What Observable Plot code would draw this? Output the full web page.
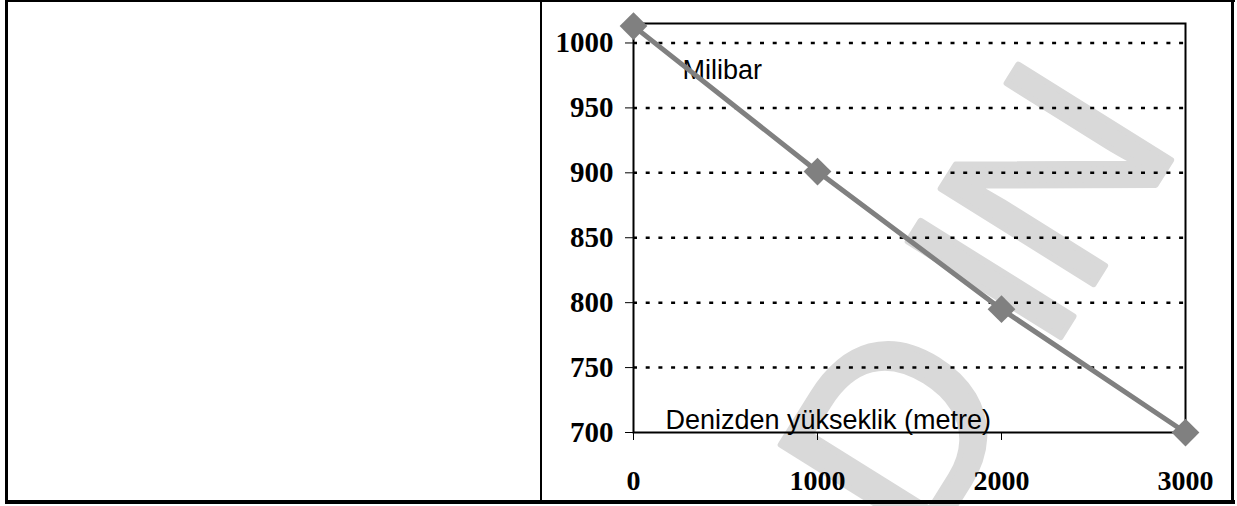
<!DOCTYPE html>
<html>
<head>
<meta charset="utf-8">
<script src="https://cdn.jsdelivr.net/npm/d3@7"></script>
<script src="https://cdn.jsdelivr.net/npm/@observablehq/plot@0.6"></script>
<style>
  html, body { margin: 0; padding: 0; background: #fff; }
  #page { position: relative; width: 1237px; height: 506px; overflow: hidden; background: #fff; }
  .border { position: absolute; background: #000; }
  #mark { position: absolute; left: 0; top: 0; }
  #chart { position: absolute; left: 542px; top: 0; }
</style>
</head>
<body>
<div id="page">
  <svg id="mark" width="1237" height="506"></svg>
  <div id="chart"></div>
  <div class="border" style="left:5px;top:0;width:1230px;height:2px"></div>
  <div class="border" style="left:5px;top:500px;width:1230px;height:4px"></div>
  <div class="border" style="left:5px;top:0;width:3px;height:504px"></div>
  <div class="border" style="left:1231px;top:0;width:3px;height:504px"></div>
  <div class="border" style="left:540px;top:0;width:2px;height:504px"></div>
</div>
<script>
// Air pressure against altitude above sea level
const altitudes = [0, 1000, 2000, 3000];          // metres
const pressures = [1013, 901, 795, 700];          // millibars
const xTicks = [0, 1000, 2000, 3000];
const yTicks = [700, 750, 800, 850, 900, 950, 1000];
const gridTicks = [750, 800, 850, 900, 950, 1000];
const yTitle = "Milibar";
const xTitle = "Denizden yükseklik (metre)";
const watermarkLetters = ["D", "I", "N"];
const watermarkOffsets = [15, 252, 317];          // along the rotated baseline

const rows = altitudes.map((a, i) => ({altitude: a, pressure: pressures[i]}));

// faint watermark lettering behind the chart, set on a baseline tilted by -58°
const wm = d3.select("#mark").append("text")
  .attr("transform", "rotate(-58)")
  .attr("font-family", "Liberation Sans, Arial, sans-serif")
  .attr("font-size", 262)
  .attr("fill", "#d9d9d9")
  .attr("stroke", "#d9d9d9")
  .attr("stroke-width", 6)
  .attr("stroke-linejoin", "round");
watermarkLetters.forEach((ch, i) => {
  wm.append("tspan").attr("x", watermarkOffsets[i]).attr("y", 1078).text(ch);
});

const tickFont = {fontFamily: "Liberation Serif, Times New Roman, serif", fontWeight: "bold", fill: "#000"};
const titleFont = {fontFamily: "Liberation Sans, Arial, sans-serif", fontWeight: "normal", fontSize: 27, fill: "#000"};

const chart = Plot.plot({
  width: 690,
  height: 503,
  marginLeft: 91,
  marginRight: 47,
  marginTop: 23,
  marginBottom: 71,
  style: {background: "transparent", fontFamily: "Liberation Serif, Times New Roman, serif", fontSize: "28px", color: "#000"},
  x: {domain: [0, 3000]},
  y: {domain: [700, 1015]},
  marks: [
    Plot.gridY(gridTicks, {stroke: "#000", strokeOpacity: 1, strokeWidth: 2.5, strokeDasharray: "4,8.7"}),
    Plot.frame({stroke: "#000", strokeWidth: 2}),
    Plot.axisX({ticks: xTicks, tickSize: 8, tickPadding: 30, tickFormat: d => String(d), label: null, fontSize: 28, ...tickFont}),
    // y ticks drawn by the axis, their numbers by a text mark on the same scale
    Plot.axisY({ticks: yTicks, tickSize: 8, tickFormat: () => "", label: null}),
    Plot.text(yTicks, {y: d => d, text: d => String(d), frameAnchor: "left", textAnchor: "end", lineAnchor: "middle", dx: -20, fontSize: 29, ...tickFont}),
    Plot.text([yTitle], {frameAnchor: "top-left", textAnchor: "start", lineAnchor: "bottom", dx: 49, dy: 55, ...titleFont}),
    Plot.text([xTitle], {frameAnchor: "bottom-left", textAnchor: "start", lineAnchor: "bottom", dx: 32, dy: -4, ...titleFont}),
    Plot.line(rows, {x: "altitude", y: "pressure", stroke: "#808080", strokeWidth: 5}),
    Plot.dot(rows, {x: "altitude", y: "pressure", symbol: "diamond2", r: 12.5, fill: "#808080", stroke: "none"})
  ]
});
document.getElementById("chart").appendChild(chart);
</script>
</body>
</html>
